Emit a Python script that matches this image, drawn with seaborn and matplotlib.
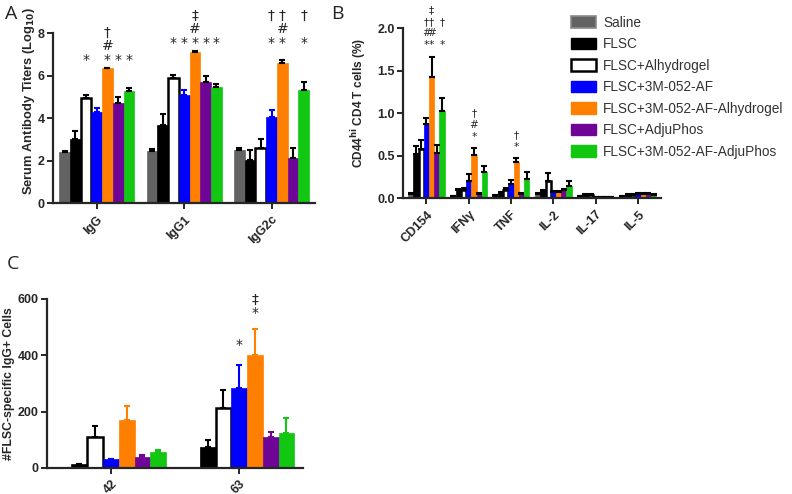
import numpy as np
import pandas as pd
import matplotlib
matplotlib.use("Agg")
import matplotlib.pyplot as plt
import seaborn as sns
from matplotlib.patches import Patch

# groups / colours
groups = ["Saline", "FLSC", "FLSC+Alhydrogel", "FLSC+3M-052-AF",
          "FLSC+3M-052-AF-Alhydrogel", "FLSC+AdjuPhos", "FLSC+3M-052-AF-AdjuPhos"]
colors = ["#636363", "#000000", "#ffffff", "#0000ff", "#ff8000", "#6e0596", "#12c712"]

# panel A: serum antibody titers (log10)
a_cats = ["IgG", "IgG1", "IgG2c"]
a_mean = {
    "Saline": [2.40, 2.43, 2.50],
    "FLSC": [3.00, 3.67, 2.03],
    "FLSC+Alhydrogel": [4.95, 5.88, 2.58],
    "FLSC+3M-052-AF": [4.28, 5.08, 4.05],
    "FLSC+3M-052-AF-Alhydrogel": [6.35, 7.13, 6.60],
    "FLSC+AdjuPhos": [4.70, 5.70, 2.10],
    "FLSC+3M-052-AF-AdjuPhos": [5.28, 5.47, 5.32],
}
a_err = {
    "Saline": [0.05, 0.10, 0.08],
    "FLSC": [0.38, 0.50, 0.45],
    "FLSC+Alhydrogel": [0.15, 0.15, 0.42],
    "FLSC+3M-052-AF": [0.18, 0.22, 0.35],
    "FLSC+3M-052-AF-Alhydrogel": [0.03, 0.02, 0.15],
    "FLSC+AdjuPhos": [0.30, 0.30, 0.50],
    "FLSC+3M-052-AF-AdjuPhos": [0.15, 0.12, 0.40],
}
# (category index, group index, symbols bottom->top (space = empty row), y of first row)
a_marks = [
    (0, 2, "*", 6.75), (0, 4, "*#†", 6.75), (0, 5, "*", 6.75), (0, 6, "*", 6.75),
    (1, 2, "*", 7.55), (1, 3, "*", 7.55), (1, 4, "*#‡", 7.55), (1, 5, "*", 7.55), (1, 6, "*", 7.55),
    (2, 3, "* †", 7.55), (2, 4, "*#†", 7.55), (2, 6, "* †", 7.55),
]

# panel B: CD44hi CD4 T cells (%)
b_cats = ["CD154", "IFNγ", "TNF", "IL-2", "IL-17", "IL-5"]
b_mean = {
    "Saline": [0.05, 0.02, 0.03, 0.05, 0.02, 0.02],
    "FLSC": [0.52, 0.09, 0.05, 0.08, 0.04, 0.04],
    "FLSC+Alhydrogel": [0.58, 0.10, 0.09, 0.20, 0.04, 0.04],
    "FLSC+3M-052-AF": [0.87, 0.20, 0.16, 0.07, 0.01, 0.05],
    "FLSC+3M-052-AF-Alhydrogel": [1.42, 0.51, 0.42, 0.07, 0.01, 0.05],
    "FLSC+AdjuPhos": [0.53, 0.05, 0.05, 0.09, 0.01, 0.05],
    "FLSC+3M-052-AF-AdjuPhos": [1.02, 0.31, 0.22, 0.14, 0.01, 0.04],
}
b_err = {
    "Saline": [0.01, 0.005, 0.005, 0.01, 0.005, 0.005],
    "FLSC": [0.09, 0.02, 0.02, 0.02, 0.005, 0.01],
    "FLSC+Alhydrogel": [0.10, 0.02, 0.03, 0.09, 0.005, 0.01],
    "FLSC+3M-052-AF": [0.07, 0.08, 0.05, 0.01, 0.005, 0.01],
    "FLSC+3M-052-AF-Alhydrogel": [0.24, 0.08, 0.05, 0.01, 0.005, 0.01],
    "FLSC+AdjuPhos": [0.09, 0.01, 0.01, 0.02, 0.005, 0.01],
    "FLSC+3M-052-AF-AdjuPhos": [0.16, 0.07, 0.09, 0.06, 0.005, 0.01],
}
b_marks = [
    (0, 3, "*#†", 1.80), (0, 4, "*#†‡", 1.80), (0, 6, "* †", 1.80),
    (1, 4, "*#†", 0.72),
    (2, 4, "*†", 0.60),
]

# panel C: FLSC-specific IgG+ cells
c_cats = ["42", "63"]
c_mean = {
    "Saline": [1, 0],
    "FLSC": [12, 75],
    "FLSC+Alhydrogel": [108, 212],
    "FLSC+3M-052-AF": [30, 285],
    "FLSC+3M-052-AF-Alhydrogel": [170, 400],
    "FLSC+AdjuPhos": [38, 108],
    "FLSC+3M-052-AF-AdjuPhos": [55, 122],
}
c_err = {
    "Saline": [0, 0],
    "FLSC": [3, 25],
    "FLSC+Alhydrogel": [40, 65],
    "FLSC+3M-052-AF": [3, 80],
    "FLSC+3M-052-AF-Alhydrogel": [50, 92],
    "FLSC+AdjuPhos": [8, 18],
    "FLSC+3M-052-AF-AdjuPhos": [10, 55],
}
c_marks = [(1, 3, "*", 437), (1, 4, "*‡", 550)]

sns.set_style("ticks")
plt.rcParams["font.family"] = ["Liberation Sans", "DejaVu Sans"]


def long_df(cats, means):
    rows = []
    for g in groups:
        for c, v in zip(cats, means[g]):
            rows.append({"cat": c, "group": g, "value": v})
    return pd.DataFrame(rows)


def draw_panel(ax, cats, means, errs, marks, err_colors, step_pt, fs):
    df = long_df(cats, means)
    sns.barplot(data=df, x="cat", y="value", hue="group", hue_order=groups,
                order=cats, palette=colors, width=0.86, errorbar=None,
                saturation=1, legend=False, ax=ax)
    bars = ax.patches[:len(groups) * len(cats)]
    k = 0
    for gi, g in enumerate(groups):
        for ci in range(len(cats)):
            p = bars[k]
            k += 1
            if g == "FLSC+Alhydrogel":
                p.set_edgecolor("black")
                p.set_linewidth(1.8)
            else:
                p.set_edgecolor(colors[gi])
                p.set_linewidth(0.5)
            x = p.get_x() + p.get_width() / 2
            h = p.get_height()
            e = errs[g][ci]
            if e > 0:
                ax.errorbar(x, h, yerr=[[0], [e]], fmt="none", ecolor=err_colors[gi],
                            elinewidth=1.5, capsize=2, capthick=1.5)
    # significance symbols stacked in fixed rows
    for ci, gi, syms, y0 in marks:
        p = bars[gi * len(cats) + ci]
        x = p.get_x() + p.get_width() / 2
        for j, s in enumerate(syms):
            if s == " ":
                continue
            ax.annotate(s, (x, y0), xytext=(0, j * step_pt), textcoords="offset points",
                        ha="center", va="center", fontsize=fs, annotation_clip=False,
                        family=["DejaVu Sans"])
    ax.set_xlabel("")
    for s in ["top", "right"]:
        ax.spines[s].set_visible(False)
    for s in ["left", "bottom"]:
        ax.spines[s].set_linewidth(1.6)
    ax.tick_params(width=1.4, length=4, labelsize=9)
    ax.tick_params(axis="y", pad=2)
    for lab in ax.get_xticklabels() + ax.get_yticklabels():
        lab.set_fontweight("bold")
    plt.setp(ax.get_xticklabels(), rotation=45, ha="right", rotation_mode="anchor")


fig = plt.figure(figsize=(7.92, 4.94), dpi=100)

# A
axA = fig.add_axes([0.067, 0.589, 0.331, 0.344])
errA = ["black", "black", "black", "#0000ff", "black", "black", "black"]
draw_panel(axA, a_cats, a_mean, a_err, a_marks, errA, 9.5, 10)
axA.set_ylim(0, 8)
axA.set_xlim(-0.5, 2.5)
axA.set_yticks([0, 2, 4, 6, 8])
for lab in axA.get_yticklabels():
    lab.set_fontweight("bold")
axA.set_ylabel("Serum Antibody Titers (Log$_{\\mathbf{10}}$)", fontsize=9.3, fontweight="bold")
axA.yaxis.set_label_coords(-0.062, 0.6)

# B
axB = fig.add_axes([0.509, 0.599, 0.326, 0.344])
errB = ["black"] * 7
draw_panel(axB, b_cats, b_mean, b_err, b_marks, errB, 8.4, 7.6)
axB.set_ylim(0, 2.0)
axB.set_xlim(-0.55, 5.55)
axB.set_yticks([0, 0.5, 1.0, 1.5, 2.0])
axB.set_yticklabels(["0.0", "0.5", "1.0", "1.5", "2.0"])
for lab in axB.get_yticklabels():
    lab.set_fontweight("bold")
axB.set_ylabel("CD44$^{\\mathbf{hi}}$ CD4 T cells (%)", fontsize=8.6, fontweight="bold")
axB.yaxis.set_label_coords(-0.135, 0.56)

# C
axC = fig.add_axes([0.059, 0.053, 0.324, 0.342])
errC = colors[:2] + ["black"] + colors[3:]
draw_panel(axC, c_cats, c_mean, c_err, c_marks, errC, 9.5, 10)
axC.set_ylim(0, 600)
axC.set_xlim(-0.5, 1.5)
axC.set_yticks([0, 200, 400, 600])
for lab in axC.get_yticklabels():
    lab.set_fontweight("bold")
axC.set_ylabel("#FLSC-specific IgG+ Cells", fontsize=8.8, fontweight="bold")
axC.yaxis.set_label_coords(-0.122, 0.5)

# legend
handles = []
for g, c in zip(groups, colors):
    if g == "Saline":
        handles.append(Patch(facecolor=c, edgecolor="#8a8a8a", linewidth=1.2, label=g))
    elif g == "FLSC+Alhydrogel":
        handles.append(Patch(facecolor="white", edgecolor="black", linewidth=1.8, label=g))
    else:
        handles.append(Patch(facecolor=c, edgecolor=c, label=g))
fig.legend(handles=handles, loc="upper left", bbox_to_anchor=(0.705, 0.993),
           frameon=False, handlelength=1.9, handleheight=0.9,
           handletextpad=0.5, labelspacing=0.55,
           prop={"family": "Liberation Sans", "size": 9.8}, labelcolor="#333333")

# panel letters
fig.text(0.006, 0.972, "A", fontsize=14, va="center", family="Open Sans")
fig.text(0.418, 0.972, "B", fontsize=14, va="center", family="Open Sans")
fig.text(0.008, 0.466, "C", fontsize=14, va="center", family="Open Sans")

fig.savefig("out.png", dpi=100)
